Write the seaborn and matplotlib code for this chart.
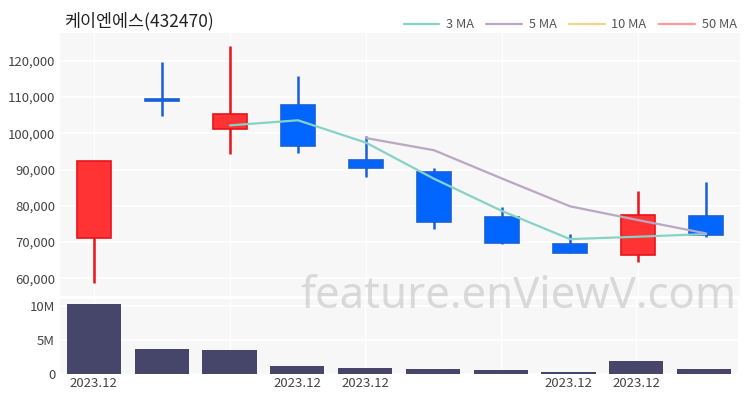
import matplotlib
matplotlib.use("Agg")
import matplotlib.pyplot as plt
import seaborn as sns
import pandas as pd
import numpy as np
from matplotlib.ticker import FuncFormatter, FixedLocator

# ---- data ----
title = "케이엔에스(432470)"
opens  = [71000, 109500, 101100, 107800, 92600, 89200, 77000, 69400, 66400, 77300]
highs  = [92300, 119600, 124000, 115700, 99300, 90500, 79800, 72200, 84000, 86600]
lows   = [58600, 104800, 94300, 94500, 88000, 73500, 69400, 66900, 64400, 71300]
closes = [92300, 108900, 105400, 96500, 90400, 75500, 69800, 67100, 77500, 72000]
volumes = [10.3e6, 3.7e6, 3.5e6, 1.2e6, 0.95e6, 0.72e6, 0.66e6, 0.3e6, 1.85e6, 0.8e6]
date_tick_pos = [0, 3, 4, 7, 8]
date_tick_labels = ["2023.12", "2023.12", "2023.12", "2023.12", "2023.12"]
price_ticks = [60000, 70000, 80000, 90000, 100000, 110000, 120000]
vol_ticks = [0, 5e6, 10e6]
ma_windows = [3, 5, 10, 50]
ma_colors = ["#86d3c6", "#b9a7c3", "#f0d68c", "#ff9a9a"]

sns.set_theme(style="white")
plt.rcParams['font.family'] = ['Noto Sans CJK KR', 'DejaVu Sans']

df = pd.DataFrame({"idx": np.arange(len(closes)), "open": opens, "high": highs,
                   "low": lows, "close": closes, "volume": volumes})

fig = plt.figure(figsize=(7.5, 4), dpi=100)
ax = fig.add_axes([60/750, 1-296/400, 680/750, (296-33)/400])
axv = fig.add_axes([60/750, 1-374/400, 678/750, (374-299)/400], sharex=ax)

bg = "#f7f7f7"
for a in (ax, axv):
    a.set_facecolor(bg)
    for s in a.spines.values():
        s.set_visible(False)
    a.tick_params(length=0, colors="#444444", labelsize=9.5)

up_fill, up_edge = "#ff3333", "#e8141c"
dn_fill, dn_edge = "#0066ff", "#1a5fd6"

# grid
for y in price_ticks:
    ax.axhline(y, color="white", lw=1.2, zorder=0)
for x in [0, 2, 4, 6, 8]:
    ax.axvline(x, color="white", lw=1.0, zorder=0)
    axv.axvline(x, color="white", lw=1.0, zorder=0)
for y in vol_ticks:
    axv.axhline(y, color="white", lw=1.2, zorder=0)

# candles
for _, r in df.iterrows():
    up = r["close"] >= r["open"]
    fc, ec = (up_fill, up_edge) if up else (dn_fill, dn_edge)
    ax.vlines(r["idx"], r["low"], r["high"], color=ec, lw=1.8, zorder=2)
    bottom = min(r["open"], r["close"])
    h = abs(r["close"] - r["open"])
    ax.bar(r["idx"], h, bottom=bottom, width=0.51, color=fc, edgecolor=ec,
           linewidth=1.2, zorder=3)

# moving averages
handles = []
for w, c in zip(ma_windows, ma_colors):
    ma = df["close"].rolling(w).mean()
    d = pd.DataFrame({"idx": df["idx"], "ma": ma}).dropna()
    if len(d):
        sns.lineplot(data=d, x="idx", y="ma", ax=ax, color=c, lw=1.6, zorder=4)
    handles.append(plt.Line2D([], [], color=c, lw=1.6, label=f"{w} MA"))

ax.set_xlim(-0.5, 9.5)
ax.set_ylim(55100, 127700)
ax.yaxis.set_major_locator(FixedLocator(price_ticks))
ax.yaxis.set_major_formatter(FuncFormatter(lambda v, p: f"{int(v):,}"))
ax.set_xlabel("")
ax.set_ylabel("")
ax.tick_params(axis="x", labelbottom=False)

# volume
sns.barplot(data=df, x="idx", y="volume", ax=axv, native_scale=True,
            color="#46466a", width=0.8, saturation=1, zorder=3, linewidth=0)
axv.set_xlim(-0.5, 9.5)
axv.set_ylim(0, 11.03e6)
axv.yaxis.set_major_locator(FixedLocator(vol_ticks))
axv.yaxis.set_major_formatter(FuncFormatter(lambda v, p: "0" if v == 0 else f"{int(v/1e6)}M"))
axv.xaxis.set_major_locator(FixedLocator(date_tick_pos))
axv.set_xticklabels(date_tick_labels)
axv.set_xlabel("")
axv.set_ylabel("")
axv.tick_params(axis="x", pad=2)

fig.text(64/750, 1-21/400, title, fontsize=12.5, color="#222222", va="center", ha="left")

fig.legend(handles=handles, loc="center right", bbox_to_anchor=(748/750, 1-25/400),
           ncol=4, frameon=False, fontsize=9.2, handlelength=2.8, columnspacing=1.0,
           handletextpad=0.5, labelcolor="#555555")

fig.text(518/750, 1-297/400, "feature.enViewV.com", fontsize=31.5, color="#c4c4c4",
         alpha=0.6, ha="center", va="center", family=["Noto Sans", "DejaVu Sans"], zorder=10)

fig.savefig("out.png", dpi=100, facecolor="white")
